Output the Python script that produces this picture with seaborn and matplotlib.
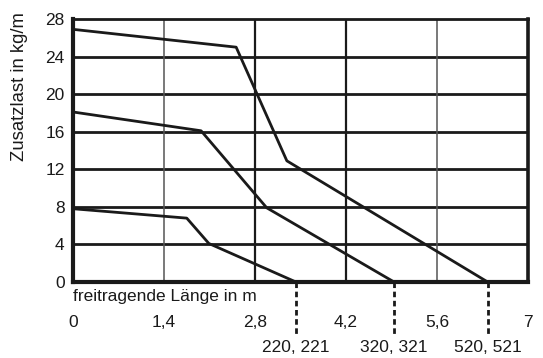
import matplotlib
matplotlib.use("Agg")
import matplotlib.pyplot as plt
import matplotlib.transforms as mtransforms
import seaborn as sns
import pandas as pd

# Data
series_names = ["220, 221", "320, 321", "520, 521"]
x_220 = [0.0, 1.75, 2.09, 3.43]
y_220 = [7.8, 6.8, 4.1, 0.0]
x_320 = [0.0, 1.97, 2.98, 4.94]
y_320 = [18.1, 16.1, 7.9, 0.0]
x_520 = [0.0, 2.51, 3.29, 6.38]
y_520 = [26.9, 25.0, 12.9, 0.0]
x_ticks = [0, 1.4, 2.8, 4.2, 5.6, 7]
x_ticklabels = ["0", "1,4", "2,8", "4,2", "5,6", "7"]
y_ticks = [0, 4, 8, 12, 16, 20, 24, 28]

sns.set_theme(style="white")
plt.rcParams["font.family"] = ["Liberation Sans", "DejaVu Sans"]
FS = 12.5

frames = []
for name, xs, ys in zip(series_names, [x_220, x_320, x_520], [y_220, y_320, y_520]):
    frames.append(pd.DataFrame({"x": xs, "y": ys, "series": name}))
df = pd.concat(frames, ignore_index=True)

fig = plt.figure(figsize=(5.43, 3.58), dpi=100)
ax = fig.add_axes([73/543, 1-282/358, 455/543, 263/358])

# grid
for yv in y_ticks[1:-1]:
    ax.axhline(yv, color="#1a1a1a", lw=2.0, zorder=1)
for xv in x_ticks[1:-1]:
    dark = xv in (2.8, 4.2)
    ax.axvline(xv, color="#1a1a1a" if dark else "#555555", lw=1.6 if dark else 1.1, zorder=1)

sns.lineplot(data=df, x="x", y="y", units="series", estimator=None, sort=False,
             color="#1a1a1a", lw=2.0, ax=ax, zorder=3, legend=False)

ax.set_xlim(0, 7)
ax.set_ylim(0, 28)
ax.set_xticks(x_ticks)
ax.set_xticklabels(x_ticklabels)
ax.set_yticks(y_ticks)
ax.tick_params(axis="both", length=0, labelsize=FS, colors="#1a1a1a")
ax.tick_params(axis="x", pad=24)
ax.tick_params(axis="y", pad=6)
ax.set_xlabel("")
ax.set_ylabel("")

for side, w in [("left", 3.0), ("bottom", 3.0), ("right", 2.6), ("top", 2.0)]:
    ax.spines[side].set_visible(True)
    ax.spines[side].set_color("#1a1a1a")
    ax.spines[side].set_linewidth(w)

trans = mtransforms.blended_transform_factory(ax.transData, ax.transAxes)
for name, xs in zip(series_names, [x_220, x_320, x_520]):
    xe = xs[-1]
    ax.plot([xe, xe], [0, -0.209], transform=trans, color="#1a1a1a", lw=2.0,
            ls=(0, (2, 1.3)), clip_on=False, zorder=4)
    ax.text(xe, -0.249, name, transform=trans, ha="center", va="center",
            fontsize=FS, color="#1a1a1a")

ax.text(0, -0.057, "freitragende Länge in m", transform=ax.transAxes,
        ha="left", va="center", fontsize=FS, color="#1a1a1a")
fig.text(20/543, 1-87/358, "Zusatzlast in kg/m", rotation=90, ha="center", va="center",
         fontsize=13.3, color="#1a1a1a")

fig.savefig("out.png", dpi=100, facecolor="white")
